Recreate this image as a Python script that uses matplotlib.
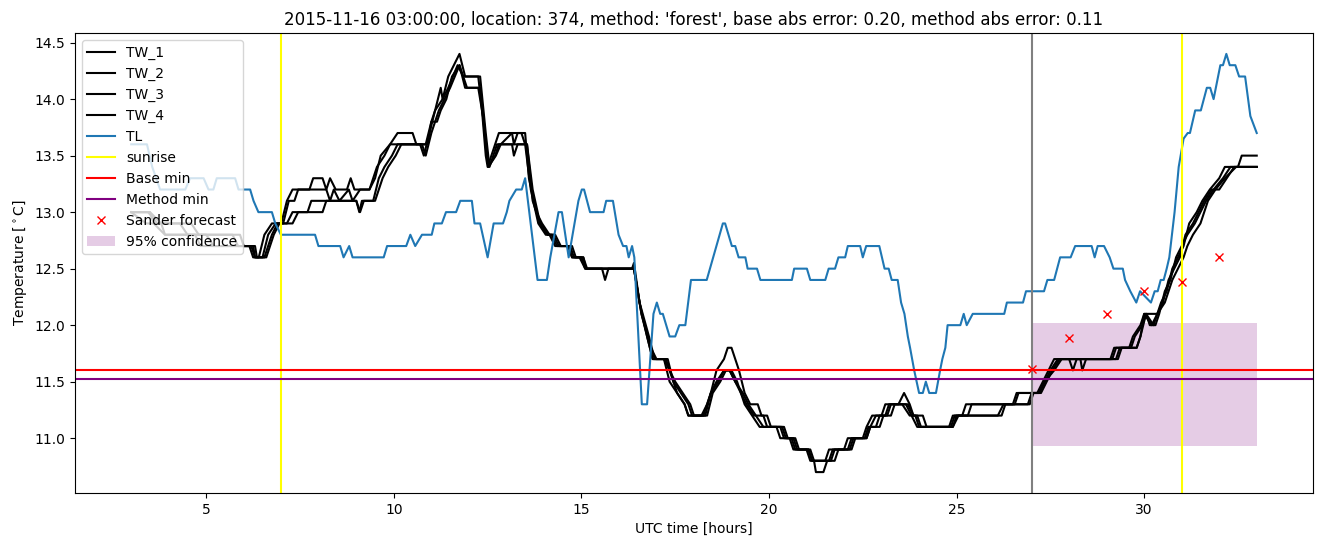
import numpy as np
import matplotlib
matplotlib.use("Agg")
import matplotlib.pyplot as plt

# (hour, temperature) knots
tw_1 = [(3.0, 13.0), (3.5, 13.0), (3.8, 12.9), (4.3, 12.9), (4.5, 12.8), (5.9, 12.8), (6.0, 12.7),
        (6.25, 12.7), (6.3, 12.6), (6.4, 12.6), (6.55, 12.8), (6.75, 12.9), (7.0, 12.9), (7.15, 13.1),
        (7.3, 13.2), (7.75, 13.2), (7.85, 13.3), (8.1, 13.3), (8.2, 13.2), (8.3, 13.3), (8.45, 13.2),
        (8.75, 13.2), (8.85, 13.3), (8.95, 13.2), (9.35, 13.2), (9.45, 13.3), (9.55, 13.4),
        (9.75, 13.5), (9.9, 13.6), (10.1, 13.7), (10.5, 13.7), (10.6, 13.6), (10.9, 13.6), (11.0, 13.8),
        (11.1, 13.9), (11.25, 14.1), (11.3, 14.0), (11.45, 14.2), (11.75, 14.4), (11.9, 14.2),
        (12.25, 14.2), (12.35, 13.9), (12.45, 13.5), (12.5, 13.4), (12.7, 13.6), (12.8, 13.7),
        (13.15, 13.7), (13.2, 13.6), (13.3, 13.7), (13.5, 13.7), (13.6, 13.3), (13.8, 13.0),
        (13.95, 12.9), (14.15, 12.8), (14.3, 12.7), (14.65, 12.7), (14.75, 12.6), (14.95, 12.6),
        (15.1, 12.5), (16.35, 12.5), (16.4, 12.55), (16.55, 12.2), (16.75, 11.9), (16.9, 11.7),
        (17.2, 11.7), (17.35, 11.5), (17.55, 11.4), (17.75, 11.3), (17.85, 11.2), (18.2, 11.2),
        (18.35, 11.3), (18.45, 11.4), (18.6, 11.6), (18.8, 11.7), (18.9, 11.8), (19.0, 11.8),
        (19.1, 11.7), (19.2, 11.6), (19.35, 11.4), (19.5, 11.3), (19.7, 11.3), (19.8, 11.2),
        (19.95, 11.2), (20.05, 11.1), (20.3, 11.1), (20.4, 11.0), (20.6, 11.0), (20.7, 10.9),
        (21.1, 10.9), (21.2, 10.8), (21.5, 10.8), (21.6, 10.9), (22.0, 10.9), (22.1, 11.0),
        (22.5, 11.0), (22.6, 11.1), (22.75, 11.2), (23.0, 11.2), (23.1, 11.3), (23.45, 11.3),
        (23.6, 11.4), (23.75, 11.3), (23.85, 11.2), (24.1, 11.2), (24.2, 11.1), (24.85, 11.1),
        (24.95, 11.2), (25.15, 11.2), (25.25, 11.3), (26.5, 11.3), (26.6, 11.4), (27.15, 11.4),
        (27.3, 11.5), (27.45, 11.6), (27.6, 11.7), (28.0, 11.7), (28.1, 11.6), (28.2, 11.7),
        (29.1, 11.7), (29.2, 11.8), (29.6, 11.8), (29.7, 11.9), (29.9, 12.0), (30.0, 12.1),
        (30.35, 12.1), (30.45, 12.2), (30.6, 12.3), (30.75, 12.5), (30.9, 12.6), (31.05, 12.7),
        (31.2, 12.9), (31.4, 13.0), (31.55, 13.1), (31.75, 13.2), (32.0, 13.3), (32.15, 13.4),
        (32.5, 13.4), (32.6, 13.5), (33.0, 13.5)]

tw_2 = [(3.0, 13.0), (3.45, 13.0), (3.7, 12.9), (4.6, 12.9), (4.8, 12.8), (5.7, 12.8), (5.85, 12.7),
        (6.3, 12.7), (6.35, 12.6), (6.5, 12.6), (6.65, 12.8), (6.85, 12.9), (7.05, 12.9), (7.2, 13.1),
        (7.35, 13.1), (7.45, 13.2), (8.2, 13.2), (8.3, 13.1), (8.4, 13.2), (8.55, 13.1), (8.8, 13.2),
        (8.9, 13.1), (9.1, 13.2), (9.35, 13.2), (9.5, 13.3), (9.65, 13.5), (9.9, 13.6), (10.7, 13.6),
        (10.8, 13.5), (10.95, 13.7), (11.1, 13.9), (11.3, 14.0), (11.45, 14.1), (11.7, 14.3),
        (11.85, 14.2), (12.3, 14.2), (12.45, 13.7), (12.55, 13.4), (12.75, 13.6), (12.85, 13.6),
        (13.15, 13.7), (13.4, 13.7), (13.5, 13.6), (13.65, 13.2), (13.85, 12.9), (14.05, 12.8),
        (14.2, 12.8), (14.35, 12.7), (14.7, 12.7), (14.8, 12.6), (15.0, 12.6), (15.1, 12.5),
        (15.55, 12.5), (15.63, 12.4), (15.72, 12.5), (16.4, 12.5), (16.55, 12.2), (16.8, 11.9),
        (16.95, 11.7), (17.3, 11.7), (17.45, 11.5), (17.65, 11.4), (17.85, 11.3), (17.95, 11.2),
        (18.3, 11.2), (18.45, 11.4), (18.6, 11.5), (18.8, 11.6), (18.95, 11.6), (19.1, 11.5),
        (19.25, 11.4), (19.4, 11.3), (19.6, 11.2), (19.85, 11.2), (19.95, 11.1), (20.2, 11.1),
        (20.3, 11.0), (20.55, 11.0), (20.65, 10.9), (21.0, 10.9), (21.1, 10.8), (21.2, 10.8),
        (21.25, 10.7), (21.45, 10.7), (21.55, 10.8), (21.75, 10.8), (21.85, 10.9), (22.15, 10.9),
        (22.25, 11.0), (22.6, 11.0), (22.7, 11.1), (22.85, 11.2), (23.1, 11.2), (23.2, 11.3),
        (23.7, 11.3), (23.85, 11.2), (23.95, 11.2), (24.05, 11.1), (24.8, 11.1), (24.9, 11.2),
        (25.3, 11.2), (25.4, 11.3), (26.55, 11.3), (26.65, 11.4), (27.2, 11.4), (27.35, 11.5),
        (27.5, 11.6), (27.7, 11.7), (29.15, 11.7), (29.25, 11.8), (29.65, 11.8), (29.75, 11.9),
        (29.95, 12.0), (30.05, 12.1), (30.15, 12.0), (30.3, 12.0), (30.4, 12.1), (30.55, 12.3),
        (30.7, 12.4), (30.85, 12.6), (31.0, 12.7), (31.15, 12.8), (31.35, 12.9), (31.5, 13.0),
        (31.65, 13.1), (31.85, 13.2), (32.1, 13.3), (32.3, 13.4), (33.0, 13.4)]

tw_3 = [(3.0, 13.0), (3.5, 13.0), (3.6, 12.9), (3.9, 12.8), (5.0, 12.8), (5.2, 12.7), (6.2, 12.7),
        (6.3, 12.6), (6.55, 12.6), (6.75, 12.8), (6.9, 12.9), (7.15, 12.9), (7.3, 13.0), (7.7, 13.0),
        (7.8, 13.1), (9.0, 13.1), (9.08, 13.0), (9.15, 13.1), (9.45, 13.1), (9.6, 13.3), (9.75, 13.4),
        (9.95, 13.5), (10.1, 13.6), (10.75, 13.6), (10.85, 13.5), (11.0, 13.7), (11.2, 13.9),
        (11.35, 14.0), (11.5, 14.1), (11.75, 14.3), (11.9, 14.1), (12.25, 14.1), (12.4, 13.8),
        (12.52, 13.4), (12.7, 13.5), (12.8, 13.6), (13.15, 13.6), (13.2, 13.5), (13.3, 13.6),
        (13.55, 13.6), (13.7, 13.2), (13.9, 12.9), (14.1, 12.8), (14.25, 12.8), (14.4, 12.7),
        (14.75, 12.7), (14.85, 12.6), (15.05, 12.6), (15.15, 12.5), (16.4, 12.5), (16.6, 12.1),
        (16.85, 11.8), (17.0, 11.7), (17.25, 11.7), (17.35, 11.6), (17.5, 11.5), (17.7, 11.4),
        (17.9, 11.3), (18.0, 11.2), (18.35, 11.2), (18.5, 11.4), (18.7, 11.5), (18.85, 11.6),
        (18.95, 11.6), (19.1, 11.5), (19.3, 11.4), (19.45, 11.3), (19.65, 11.2), (19.85, 11.1),
        (20.35, 11.1), (20.45, 11.0), (20.65, 11.0), (20.75, 10.9), (21.05, 10.9), (21.15, 10.8),
        (21.65, 10.8), (21.75, 10.9), (22.1, 10.9), (22.2, 11.0), (22.55, 11.0), (22.65, 11.1),
        (22.85, 11.1), (22.95, 11.2), (23.15, 11.2), (23.25, 11.3), (23.55, 11.3), (23.75, 11.2),
        (23.9, 11.2), (24.0, 11.1), (24.9, 11.1), (25.0, 11.2), (26.2, 11.2), (26.3, 11.3),
        (26.95, 11.3), (27.05, 11.4), (27.25, 11.4), (27.4, 11.5), (27.55, 11.6), (27.75, 11.7),
        (28.3, 11.7), (28.35, 11.6), (28.45, 11.7), (29.3, 11.7), (29.4, 11.8), (29.8, 11.8),
        (29.9, 11.9), (30.0, 12.1), (30.2, 12.0), (30.35, 12.1), (30.5, 12.2), (30.65, 12.4),
        (30.8, 12.5), (30.95, 12.6), (31.1, 12.8), (31.3, 12.9), (31.45, 13.0), (31.6, 13.1),
        (31.8, 13.2), (32.0, 13.2), (32.2, 13.3), (32.4, 13.4), (33.0, 13.4)]

tw_4 = [(3.0, 13.0), (3.4, 12.9), (3.8, 12.9), (3.9, 12.8), (4.7, 12.8), (4.85, 12.7), (6.15, 12.7),
        (6.25, 12.6), (6.6, 12.6), (6.8, 12.8), (6.95, 12.9), (7.3, 12.9), (7.45, 13.0), (8.1, 13.0),
        (8.2, 13.1), (9.0, 13.1), (9.1, 13.0), (9.2, 13.1), (9.5, 13.1), (9.6, 13.2), (9.7, 13.3),
        (9.85, 13.4), (10.05, 13.5), (10.2, 13.6), (10.85, 13.6), (11.0, 13.8), (11.15, 13.8),
        (11.25, 13.9), (11.4, 14.0), (11.55, 14.2), (11.75, 14.3), (11.95, 14.1), (12.3, 14.1),
        (12.45, 13.6), (12.52, 13.4), (12.72, 13.5), (12.85, 13.6), (13.55, 13.6), (13.7, 13.1),
        (13.9, 12.9), (14.1, 12.8), (14.3, 12.8), (14.45, 12.7), (14.65, 12.7), (14.75, 12.6),
        (15.05, 12.6), (15.12, 12.5), (16.4, 12.5), (16.6, 12.1), (16.9, 11.7), (17.2, 11.7),
        (17.35, 11.6), (17.55, 11.4), (17.75, 11.3), (17.85, 11.2), (18.25, 11.2), (18.45, 11.4),
        (18.65, 11.5), (18.8, 11.6), (19.0, 11.6), (19.15, 11.5), (19.35, 11.3), (19.55, 11.2),
        (19.75, 11.1), (20.4, 11.1), (20.5, 11.0), (20.7, 11.0), (20.8, 10.9), (21.05, 10.9),
        (21.15, 10.8), (21.6, 10.8), (21.7, 10.9), (22.2, 10.9), (22.3, 11.0), (22.6, 11.0),
        (22.7, 11.1), (22.95, 11.1), (23.05, 11.2), (23.25, 11.2), (23.35, 11.3), (23.65, 11.3),
        (23.8, 11.2), (23.95, 11.1), (24.9, 11.1), (25.05, 11.2), (26.1, 11.2), (26.25, 11.3),
        (26.9, 11.3), (27.0, 11.4), (27.2, 11.4), (27.35, 11.5), (27.6, 11.6), (27.8, 11.7),
        (29.25, 11.7), (29.35, 11.8), (29.8, 11.8), (29.9, 11.9), (30.05, 12.1), (30.25, 12.0),
        (30.35, 12.1), (30.55, 12.2), (30.75, 12.4), (30.9, 12.5), (31.05, 12.6), (31.15, 12.7),
        (31.3, 12.8), (31.5, 12.9), (31.7, 13.1), (31.9, 13.2), (32.15, 13.3), (32.45, 13.4),
        (33.0, 13.4)]

tl = [(3.0, 13.6), (3.42, 13.6), (3.56, 13.4), (3.77, 13.2), (4.44, 13.2), (4.57, 13.3), (4.93, 13.3),
      (5.06, 13.2), (5.19, 13.2), (5.28, 13.3), (5.77, 13.3), (5.86, 13.2), (6.17, 13.2), (6.26, 13.1),
      (6.39, 13.0), (6.75, 13.0), (6.84, 12.9), (6.99, 12.8), (7.9, 12.8), (7.99, 12.7), (8.57, 12.7),
      (8.66, 12.6), (8.81, 12.7), (8.9, 12.6), (9.73, 12.6), (9.82, 12.7), (10.33, 12.7), (10.44, 12.8),
      (10.57, 12.7), (10.75, 12.8), (11.01, 12.8), (11.08, 12.9), (11.28, 12.9), (11.39, 13.0),
      (11.66, 13.0), (11.77, 13.1), (12.08, 13.1), (12.15, 12.9), (12.3, 12.9), (12.5, 12.6),
      (12.66, 12.9), (12.91, 12.9), (13.01, 13.0), (13.08, 13.1), (13.26, 13.2), (13.41, 13.2),
      (13.5, 13.3), (13.83, 12.4), (14.08, 12.4), (14.17, 12.6), (14.39, 13.0), (14.48, 13.0),
      (14.66, 12.6), (14.92, 13.1), (15.01, 13.2), (15.07, 13.2), (15.23, 13.0), (15.59, 13.0),
      (15.66, 13.1), (15.84, 13.1), (15.99, 12.8), (16.11, 12.7), (16.2, 12.7), (16.26, 12.6),
      (16.35, 12.7), (16.41, 12.6), (16.61, 11.3), (16.75, 11.3), (16.92, 12.1), (17.01, 12.2),
      (17.1, 12.1), (17.17, 12.1), (17.35, 11.9), (17.5, 11.9), (17.61, 12.0), (17.77, 12.0),
      (17.92, 12.4), (18.34, 12.4), (18.77, 12.9), (18.83, 12.9), (19.01, 12.7), (19.1, 12.7),
      (19.19, 12.6), (19.37, 12.6), (19.43, 12.5), (19.68, 12.5), (19.77, 12.4), (20.61, 12.4),
      (20.67, 12.5), (21.01, 12.5), (21.1, 12.4), (21.5, 12.4), (21.59, 12.5), (21.76, 12.5),
      (21.85, 12.6), (22.03, 12.6), (22.1, 12.7), (22.43, 12.7), (22.5, 12.6), (22.59, 12.7),
      (22.94, 12.7), (23.08, 12.5), (23.19, 12.5), (23.27, 12.4), (23.43, 12.4), (23.52, 12.2),
      (23.61, 12.1), (23.7, 11.9), (23.76, 11.8), (23.87, 11.6), (24.0, 11.4), (24.1, 11.4),
      (24.18, 11.5), (24.27, 11.4), (24.45, 11.4), (24.56, 11.6), (24.62, 11.7), (24.7, 11.8),
      (24.76, 12.0), (25.1, 12.0), (25.19, 12.1), (25.27, 12.0), (25.43, 12.1), (26.27, 12.1),
      (26.34, 12.2), (26.77, 12.2), (26.85, 12.3), (27.33, 12.3), (27.42, 12.4), (27.6, 12.4),
      (27.76, 12.6), (28.04, 12.6), (28.16, 12.7), (28.6, 12.7), (28.68, 12.6), (28.76, 12.7),
      (28.93, 12.7), (29.08, 12.6), (29.18, 12.5), (29.43, 12.5), (29.49, 12.4), (29.63, 12.3),
      (29.79, 12.2), (29.89, 12.3), (30.18, 12.2), (30.28, 12.3), (30.36, 12.3), (30.44, 12.4),
      (30.52, 12.4), (30.6, 12.5), (30.67, 12.6), (30.81, 13.0), (30.92, 13.4), (31.05, 13.65),
      (31.16, 13.7), (31.22, 13.7), (31.36, 13.9), (31.51, 13.9), (31.67, 14.1), (31.76, 14.1),
      (31.85, 14.0), (32.03, 14.3), (32.1, 14.3), (32.19, 14.4), (32.28, 14.3), (32.43, 14.3),
      (32.53, 14.2), (32.69, 14.2), (32.83, 13.85), (33.0, 13.7)]

sunrise_hours = [7, 31]
forecast_start = 27
base_min = 11.6
method_min = 11.52
sander_hours = [27, 28, 29, 30, 31, 32]
sander_values = [11.61, 11.89, 12.1, 12.3, 12.38, 12.6]
conf_hours = [27, 33]
conf_low = 10.93
conf_high = 12.02

title = ("2015-11-16 03:00:00, location: 374, method: 'forest', "
         "base abs error: 0.20, method abs error: 0.11")

fig, ax = plt.subplots(figsize=(13.24, 5.47), dpi=100)

for name, series in [("TW_1", tw_1), ("TW_2", tw_2), ("TW_3", tw_3), ("TW_4", tw_4)]:
    t, v = zip(*series)
    ax.plot(t, v, color="black", label=name)

t, v = zip(*tl)
ax.plot(t, v, color="C0", label="TL")

ax.axvline(sunrise_hours[0], color="yellow", label="sunrise")
ax.axvline(sunrise_hours[1], color="yellow")
ax.axvline(forecast_start, color="grey")
ax.axhline(base_min, color="red", label="Base min")
ax.axhline(method_min, color="purple", label="Method min")
ax.plot(sander_hours, sander_values, "x", color="red", label="Sander forecast")
ax.fill_between(conf_hours, conf_low, conf_high, color="purple", alpha=0.2,
                linewidth=0, label="95% confidence")

ax.set_title(title)
ax.set_xlabel("UTC time [hours]")
ax.set_ylabel("Temperature [$^\\circ$C]")
ax.legend(loc="upper left")

plt.subplots_adjust(left=0.0566, right=0.9917, top=0.9397, bottom=0.0987)
plt.savefig("out.png")
